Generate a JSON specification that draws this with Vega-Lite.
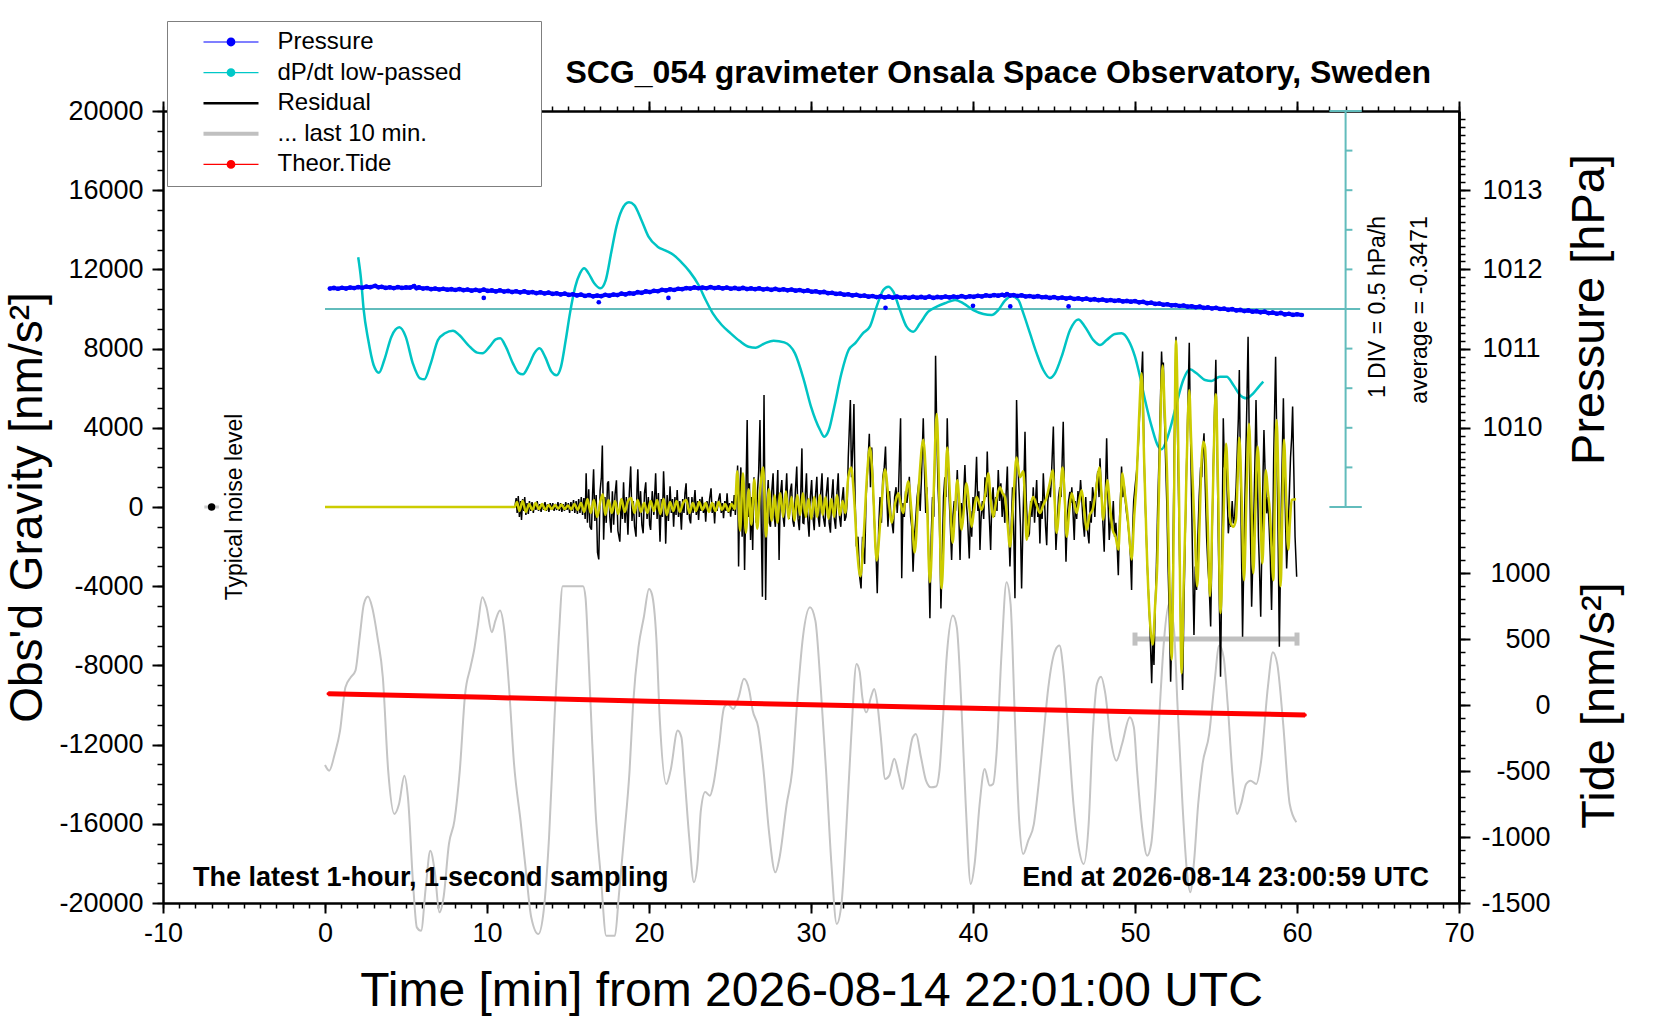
{
  "$schema": "https://vega.github.io/schema/vega-lite/v6.json",
  "width": 1296,
  "height": 792,
  "autosize": {"type": "none"},
  "padding": {"left": 163, "top": 111, "right": 201, "bottom": 117},
  "background": "white",
  "config": {
    "font": "Liberation Sans",
    "view": {"stroke": null},
    "axis": {
      "grid": false, "domainColor": "#000000", "tickColor": "#000000",
      "labelColor": "#000000", "titleColor": "#000000", "labelFontSize": 27,
      "labelFont": "Liberation Sans", "titleFont": "Liberation Sans",
      "titleFontWeight": "normal", "domainWidth": 2.5, "tickWidth": 1.5,
      "labelFlush": false, "labelOverlap": false
    }
  },
  "datasets": {
    "gray": [
      {"t":0.0,"g":-13028},{"t":0.26,"g":-13315},{"t":0.6,"g":-12470},{"t":0.93,"g":-11290},{"t":1.26,"g":-9105},{"t":1.59,"g":-8600},{"t":1.88,"g":-8263},{"t":2.14,"g":-6580},{"t":2.4,"g":-4895},{"t":2.65,"g":-4525},{"t":2.91,"g":-5063},{"t":3.24,"g":-6580},{"t":3.57,"g":-8600},{"t":3.9,"g":-13315},{"t":4.28,"g":-15500},{"t":4.57,"g":-15000},{"t":4.9,"g":-13567},{"t":5.12,"g":-14660},{"t":5.45,"g":-19208},{"t":5.67,"g":-21230},{"t":5.93,"g":-21400},{"t":6.22,"g":-19208},{"t":6.5,"g":-17356},{"t":6.77,"g":-18370},{"t":7.06,"g":-20470},{"t":7.32,"g":-19710},{"t":7.65,"g":-17020},{"t":7.99,"g":-15840},{"t":8.32,"g":-13315},{"t":8.65,"g":-9440},{"t":8.98,"g":-8094},{"t":9.2,"g":-7250},{"t":9.42,"g":-6070},{"t":9.71,"g":-4560},{"t":9.97,"g":-5060},{"t":10.3,"g":-6330},{"t":10.52,"g":-5740},{"t":10.8,"g":-5230},{"t":11.07,"g":-6240},{"t":11.36,"g":-9105},{"t":11.67,"g":-12980},{"t":12.07,"g":-15840},{"t":12.4,"g":-18370},{"t":12.73,"g":-20720},{"t":13.17,"g":-21570},{"t":13.5,"g":-20390},{"t":13.83,"g":-16680},{"t":14.16,"g":-10790},{"t":14.43,"g":-6580},{"t":14.67,"g":-4000},{"t":15.93,"g":-4000},{"t":16.08,"g":-4560},{"t":16.26,"g":-7420},{"t":16.48,"g":-11630},{"t":16.7,"g":-15340},{"t":17.03,"g":-18700},{"t":17.36,"g":-21650},{"t":17.9,"g":-21650},{"t":18.13,"g":-19710},{"t":18.46,"g":-16680},{"t":18.8,"g":-13315},{"t":19.02,"g":-9950},{"t":19.35,"g":-7080},{"t":19.68,"g":-5570},{"t":20.0,"g":-4140},{"t":20.18,"g":-4400},{"t":20.45,"g":-6580},{"t":20.67,"g":-10790},{"t":21.07,"g":-13990},{"t":21.33,"g":-13315},{"t":21.77,"g":-11290},{"t":22.0,"g":-11630},{"t":22.2,"g":-13650},{"t":22.48,"g":-16680},{"t":22.77,"g":-18950},{"t":22.99,"g":-18030},{"t":23.2,"g":-15340},{"t":23.47,"g":-14400},{"t":23.76,"g":-14580},{"t":23.98,"g":-13990},{"t":24.31,"g":-12130},{"t":24.64,"g":-10115},{"t":24.86,"g":-9950},{"t":25.2,"g":-10200},{"t":25.53,"g":-9610},{"t":25.86,"g":-8680},{"t":26.19,"g":-9270},{"t":26.4,"g":-10280},{"t":26.74,"g":-11125},{"t":27.07,"g":-13315},{"t":27.4,"g":-16340},{"t":27.8,"g":-18450},{"t":28.06,"g":-17700},{"t":28.5,"g":-15000},{"t":28.84,"g":-13315},{"t":29.17,"g":-9610},{"t":29.5,"g":-6580},{"t":29.94,"g":-5060},{"t":30.27,"g":-5740},{"t":30.6,"g":-9105},{"t":30.93,"g":-13315},{"t":31.26,"g":-18030},{"t":31.59,"g":-21060},{"t":31.88,"g":-20050},{"t":32.15,"g":-16680},{"t":32.48,"g":-11630},{"t":32.81,"g":-7925},{"t":33.0,"g":-8300},{"t":33.17,"g":-9610},{"t":33.42,"g":-10370},{"t":33.7,"g":-9610},{"t":33.9,"g":-9190},{"t":34.1,"g":-9950},{"t":34.31,"g":-11630},{"t":34.58,"g":-13735},{"t":34.83,"g":-13567},{"t":35.14,"g":-12720},{"t":35.41,"g":-13480},{"t":35.66,"g":-14240},{"t":35.97,"g":-12970},{"t":36.28,"g":-11630},{"t":36.48,"g":-11460},{"t":36.79,"g":-12640},{"t":37.1,"g":-13820},{"t":37.41,"g":-14160},{"t":37.72,"g":-14120},{"t":37.93,"g":-13315},{"t":38.14,"g":-10790},{"t":38.39,"g":-7420},{"t":38.76,"g":-5480},{"t":39.0,"g":-6070},{"t":39.28,"g":-9950},{"t":39.55,"g":-15000},{"t":39.86,"g":-19040},{"t":40.1,"g":-18030},{"t":40.41,"g":-15000},{"t":40.72,"g":-13230},{"t":41.03,"g":-14070},{"t":41.24,"g":-13990},{"t":41.45,"g":-12470},{"t":41.76,"g":-7420},{"t":42.07,"g":-3800},{"t":42.32,"g":-4900},{"t":42.59,"g":-10790},{"t":42.85,"g":-15840},{"t":43.1,"g":-17525},{"t":43.41,"g":-16850},{"t":43.76,"g":-16000},{"t":44.03,"g":-14160},{"t":44.34,"g":-11630},{"t":44.65,"g":-9105},{"t":45.07,"g":-7250},{"t":45.34,"g":-7000},{"t":45.58,"g":-8260},{"t":45.9,"g":-11630},{"t":46.2,"g":-15000},{"t":46.52,"g":-17190},{"t":46.83,"g":-18030},{"t":47.14,"g":-16000},{"t":47.38,"g":-11630},{"t":47.65,"g":-8940},{"t":47.9,"g":-8570},{"t":48.17,"g":-9440},{"t":48.48,"g":-11630},{"t":48.85,"g":-12810},{"t":49.2,"g":-11970},{"t":49.68,"g":-10620},{"t":49.93,"g":-11125},{"t":50.13,"g":-13315},{"t":50.44,"g":-16180},{"t":50.75,"g":-17610},{"t":51.0,"g":-17020},{"t":51.27,"g":-14160},{"t":51.52,"g":-10280},{"t":51.79,"g":-6750},{"t":52.1,"g":-4900},{"t":52.41,"g":-6240},{"t":52.62,"g":-9950},{"t":52.93,"g":-15000},{"t":53.2,"g":-18370},{"t":53.41,"g":-19460},{"t":53.65,"g":-17860},{"t":53.9,"g":-15000},{"t":54.17,"g":-12980},{"t":54.58,"g":-11460},{"t":54.9,"g":-8940},{"t":55.2,"g":-7000},{"t":55.47,"g":-7590},{"t":55.72,"g":-9950},{"t":56.03,"g":-13650},{"t":56.3,"g":-15500},{"t":56.55,"g":-15000},{"t":56.86,"g":-13990},{"t":57.13,"g":-13820},{"t":57.48,"g":-13990},{"t":57.79,"g":-12810},{"t":58.2,"g":-9105},{"t":58.51,"g":-7340},{"t":58.78,"g":-7925},{"t":59.13,"g":-10790},{"t":59.55,"g":-15000},{"t":59.96,"g":-15920}
    ],
    "tide": [
      {"t":0.2,"tide":85},{"t":10,"tide":58},{"t":20,"tide":29},{"t":30,"tide":1},{"t":40,"tide":-25},{"t":50,"tide":-52},{"t":60.5,"tide":-75}
    ],
    "dpdt": [
      {"t":2.05,"v":0.653},{"t":2.23,"v":0.366},{"t":2.38,"v":0.004},{"t":2.67,"v":-0.392},{"t":3.0,"v":-0.707},{"t":3.33,"v":-0.804},{"t":3.66,"v":-0.644},{"t":4.1,"v":-0.349},{"t":4.59,"v":-0.232},{"t":4.98,"v":-0.349},{"t":5.42,"v":-0.686},{"t":5.86,"v":-0.876},{"t":6.13,"v":-0.888},{"t":6.53,"v":-0.686},{"t":6.97,"v":-0.392},{"t":7.41,"v":-0.307},{"t":7.9,"v":-0.274},{"t":8.29,"v":-0.328},{"t":8.84,"v":-0.455},{"t":9.39,"v":-0.551},{"t":9.72,"v":-0.56},{"t":10.16,"v":-0.476},{"t":10.54,"v":-0.383},{"t":10.82,"v":-0.37},{"t":11.16,"v":-0.476},{"t":11.6,"v":-0.686},{"t":11.93,"v":-0.804},{"t":12.21,"v":-0.825},{"t":12.59,"v":-0.707},{"t":12.92,"v":-0.56},{"t":13.25,"v":-0.497},{"t":13.58,"v":-0.602},{"t":13.98,"v":-0.791},{"t":14.29,"v":-0.838},{"t":14.57,"v":-0.728},{"t":14.86,"v":-0.392},{"t":15.12,"v":-0.055},{"t":15.45,"v":0.282},{"t":15.74,"v":0.45},{"t":16.0,"v":0.514},{"t":16.27,"v":0.45},{"t":16.62,"v":0.324},{"t":17.0,"v":0.261},{"t":17.33,"v":0.366},{"t":17.66,"v":0.703},{"t":17.99,"v":1.04},{"t":18.32,"v":1.25},{"t":18.76,"v":1.347},{"t":19.09,"v":1.313},{"t":19.53,"v":1.124},{"t":19.97,"v":0.913},{"t":20.53,"v":0.787},{"t":21.03,"v":0.737},{"t":21.52,"v":0.682},{"t":21.96,"v":0.598},{"t":22.51,"v":0.472},{"t":23.06,"v":0.303},{"t":23.5,"v":0.114},{"t":23.94,"v":-0.055},{"t":24.49,"v":-0.202},{"t":25.04,"v":-0.307},{"t":25.6,"v":-0.404},{"t":26.15,"v":-0.476},{"t":26.59,"v":-0.488},{"t":27.14,"v":-0.434},{"t":27.69,"v":-0.4},{"t":28.35,"v":-0.421},{"t":29.01,"v":-0.56},{"t":29.56,"v":-0.897},{"t":30.0,"v":-1.233},{"t":30.56,"v":-1.528},{"t":30.82,"v":-1.612},{"t":31.1,"v":-1.528},{"t":31.44,"v":-1.233},{"t":31.88,"v":-0.812},{"t":32.32,"v":-0.518},{"t":32.76,"v":-0.425},{"t":33.2,"v":-0.307},{"t":33.64,"v":-0.22},{"t":34.05,"v":0.03},{"t":34.46,"v":0.24},{"t":34.77,"v":0.282},{"t":35.08,"v":0.219},{"t":35.49,"v":-0.013},{"t":35.9,"v":-0.223},{"t":36.31,"v":-0.286},{"t":36.73,"v":-0.181},{"t":37.24,"v":-0.034},{"t":37.76,"v":0.03},{"t":38.37,"v":0.08},{"t":38.89,"v":0.114},{"t":39.4,"v":0.072},{"t":40.02,"v":-0.013},{"t":40.64,"v":-0.063},{"t":41.15,"v":-0.076},{"t":41.56,"v":-0.013},{"t":41.97,"v":0.105},{"t":42.39,"v":0.164},{"t":42.8,"v":0.114},{"t":43.11,"v":-0.055},{"t":43.52,"v":-0.307},{"t":43.93,"v":-0.56},{"t":44.34,"v":-0.77},{"t":44.75,"v":-0.871},{"t":45.06,"v":-0.812},{"t":45.47,"v":-0.602},{"t":45.99,"v":-0.265},{"t":46.5,"v":-0.131},{"t":46.91,"v":-0.223},{"t":47.43,"v":-0.392},{"t":47.84,"v":-0.455},{"t":48.25,"v":-0.392},{"t":48.76,"v":-0.316},{"t":49.17,"v":-0.307},{"t":49.59,"v":-0.392},{"t":50.0,"v":-0.602},{"t":50.31,"v":-0.854},{"t":50.62,"v":-1.149},{"t":51.03,"v":-1.486},{"t":51.44,"v":-1.738},{"t":51.64,"v":-1.772},{"t":51.95,"v":-1.654},{"t":52.26,"v":-1.444},{"t":52.57,"v":-1.191},{"t":52.98,"v":-0.897},{"t":53.39,"v":-0.762},{"t":53.8,"v":-0.812},{"t":54.32,"v":-0.897},{"t":54.73,"v":-0.909},{"t":55.24,"v":-0.854},{"t":55.66,"v":-0.854},{"t":56.07,"v":-0.96},{"t":56.48,"v":-1.086},{"t":56.89,"v":-1.128},{"t":57.3,"v":-1.065},{"t":57.61,"v":-0.989},{"t":57.92,"v":-0.918}
    ],
    "pres": [
      {"t":0.3,"p":1011.758,"o":0},{"t":0.55,"p":1011.766,"o":0},{"t":0.8,"p":1011.756,"o":0},{"t":1.05,"p":1011.768,"o":0},{"t":1.3,"p":1011.758,"o":0},{"t":1.55,"p":1011.77,"o":0},{"t":1.8,"p":1011.764,"o":0},{"t":2.05,"p":1011.776,"o":0},{"t":2.3,"p":1011.768,"o":0},{"t":2.55,"p":1011.782,"o":0},{"t":2.8,"p":1011.776,"o":0},{"t":3.1,"p":1011.792,"o":0},{"t":3.3,"p":1011.774,"o":0},{"t":3.5,"p":1011.78,"o":0},{"t":3.75,"p":1011.766,"o":0},{"t":4.0,"p":1011.774,"o":0},{"t":4.25,"p":1011.764,"o":0},{"t":4.5,"p":1011.776,"o":0},{"t":4.75,"p":1011.766,"o":0},{"t":5.0,"p":1011.772,"o":0},{"t":5.25,"p":1011.77,"o":0},{"t":5.5,"p":1011.79,"o":0},{"t":5.65,"p":1011.762,"o":0},{"t":5.8,"p":1011.772,"o":0},{"t":6.05,"p":1011.758,"o":0},{"t":6.3,"p":1011.764,"o":0},{"t":6.55,"p":1011.75,"o":0},{"t":6.8,"p":1011.758,"o":0},{"t":7.05,"p":1011.746,"o":0},{"t":7.3,"p":1011.756,"o":0},{"t":7.55,"p":1011.744,"o":0},{"t":7.8,"p":1011.75,"o":0},{"t":8.05,"p":1011.74,"o":0},{"t":8.3,"p":1011.752,"o":0},{"t":8.55,"p":1011.738,"o":0},{"t":8.8,"p":1011.746,"o":0},{"t":9.05,"p":1011.732,"o":0},{"t":9.3,"p":1011.742,"o":0},{"t":9.55,"p":1011.73,"o":0},{"t":9.8,"p":1011.744,"o":0},{"t":10.05,"p":1011.728,"o":0},{"t":10.3,"p":1011.734,"o":0},{"t":10.55,"p":1011.722,"o":0},{"t":10.8,"p":1011.736,"o":0},{"t":11.05,"p":1011.72,"o":0},{"t":11.3,"p":1011.728,"o":0},{"t":11.55,"p":1011.714,"o":0},{"t":11.8,"p":1011.724,"o":0},{"t":12.05,"p":1011.71,"o":0},{"t":12.3,"p":1011.722,"o":0},{"t":12.55,"p":1011.706,"o":0},{"t":12.8,"p":1011.714,"o":0},{"t":13.05,"p":1011.7,"o":0},{"t":13.3,"p":1011.71,"o":0},{"t":13.55,"p":1011.696,"o":0},{"t":13.8,"p":1011.706,"o":0},{"t":14.05,"p":1011.69,"o":0},{"t":14.3,"p":1011.698,"o":0},{"t":14.55,"p":1011.684,"o":0},{"t":14.8,"p":1011.694,"o":0},{"t":15.05,"p":1011.678,"o":0},{"t":15.3,"p":1011.686,"o":0},{"t":15.55,"p":1011.672,"o":0},{"t":15.8,"p":1011.682,"o":0},{"t":16.05,"p":1011.664,"o":0},{"t":16.3,"p":1011.676,"o":0},{"t":16.55,"p":1011.66,"o":0},{"t":16.8,"p":1011.67,"o":0},{"t":17.05,"p":1011.662,"o":0},{"t":17.3,"p":1011.68,"o":0},{"t":17.55,"p":1011.668,"o":0},{"t":17.8,"p":1011.682,"o":0},{"t":18.05,"p":1011.676,"o":0},{"t":18.3,"p":1011.694,"o":0},{"t":18.55,"p":1011.684,"o":0},{"t":18.8,"p":1011.7,"o":0},{"t":19.05,"p":1011.694,"o":0},{"t":19.3,"p":1011.712,"o":0},{"t":19.55,"p":1011.704,"o":0},{"t":19.8,"p":1011.722,"o":0},{"t":20.05,"p":1011.714,"o":0},{"t":20.3,"p":1011.73,"o":0},{"t":20.55,"p":1011.724,"o":0},{"t":20.8,"p":1011.742,"o":0},{"t":21.05,"p":1011.734,"o":0},{"t":21.3,"p":1011.748,"o":0},{"t":21.55,"p":1011.74,"o":0},{"t":21.8,"p":1011.756,"o":0},{"t":22.05,"p":1011.75,"o":0},{"t":22.3,"p":1011.764,"o":0},{"t":22.55,"p":1011.758,"o":0},{"t":22.8,"p":1011.772,"o":0},{"t":23.05,"p":1011.762,"o":0},{"t":23.3,"p":1011.77,"o":0},{"t":23.55,"p":1011.762,"o":0},{"t":23.8,"p":1011.776,"o":0},{"t":24.05,"p":1011.764,"o":0},{"t":24.3,"p":1011.772,"o":0},{"t":24.55,"p":1011.76,"o":0},{"t":24.8,"p":1011.77,"o":0},{"t":25.05,"p":1011.756,"o":0},{"t":25.3,"p":1011.766,"o":0},{"t":25.55,"p":1011.754,"o":0},{"t":25.8,"p":1011.766,"o":0},{"t":26.05,"p":1011.752,"o":0},{"t":26.3,"p":1011.76,"o":0},{"t":26.55,"p":1011.75,"o":0},{"t":26.8,"p":1011.76,"o":0},{"t":27.05,"p":1011.746,"o":0},{"t":27.3,"p":1011.754,"o":0},{"t":27.55,"p":1011.742,"o":0},{"t":27.8,"p":1011.754,"o":0},{"t":28.05,"p":1011.74,"o":0},{"t":28.3,"p":1011.748,"o":0},{"t":28.55,"p":1011.736,"o":0},{"t":28.8,"p":1011.746,"o":0},{"t":29.05,"p":1011.732,"o":0},{"t":29.3,"p":1011.74,"o":0},{"t":29.55,"p":1011.726,"o":0},{"t":29.8,"p":1011.734,"o":0},{"t":30.05,"p":1011.718,"o":0},{"t":30.3,"p":1011.724,"o":0},{"t":30.55,"p":1011.71,"o":0},{"t":30.8,"p":1011.716,"o":0},{"t":31.05,"p":1011.7,"o":0},{"t":31.3,"p":1011.704,"o":0},{"t":31.55,"p":1011.69,"o":0},{"t":31.8,"p":1011.696,"o":0},{"t":32.05,"p":1011.68,"o":0},{"t":32.3,"p":1011.686,"o":0},{"t":32.55,"p":1011.672,"o":0},{"t":32.8,"p":1011.68,"o":0},{"t":33.05,"p":1011.664,"o":0},{"t":33.3,"p":1011.67,"o":0},{"t":33.55,"p":1011.656,"o":0},{"t":33.8,"p":1011.664,"o":0},{"t":34.05,"p":1011.65,"o":0},{"t":34.3,"p":1011.66,"o":0},{"t":34.55,"p":1011.646,"o":0},{"t":34.8,"p":1011.656,"o":0},{"t":35.05,"p":1011.644,"o":0},{"t":35.3,"p":1011.656,"o":0},{"t":35.55,"p":1011.642,"o":0},{"t":35.8,"p":1011.65,"o":0},{"t":36.05,"p":1011.64,"o":0},{"t":36.3,"p":1011.654,"o":0},{"t":36.55,"p":1011.642,"o":0},{"t":36.8,"p":1011.652,"o":0},{"t":37.05,"p":1011.642,"o":0},{"t":37.3,"p":1011.656,"o":0},{"t":37.55,"p":1011.64,"o":0},{"t":37.8,"p":1011.652,"o":0},{"t":38.05,"p":1011.646,"o":0},{"t":38.3,"p":1011.658,"o":0},{"t":38.55,"p":1011.646,"o":0},{"t":38.8,"p":1011.658,"o":0},{"t":39.05,"p":1011.65,"o":0},{"t":39.3,"p":1011.662,"o":0},{"t":39.55,"p":1011.648,"o":0},{"t":39.8,"p":1011.66,"o":0},{"t":40.05,"p":1011.654,"o":0},{"t":40.3,"p":1011.666,"o":0},{"t":40.55,"p":1011.658,"o":0},{"t":40.8,"p":1011.672,"o":0},{"t":41.05,"p":1011.664,"o":0},{"t":41.3,"p":1011.676,"o":0},{"t":41.55,"p":1011.668,"o":0},{"t":41.8,"p":1011.68,"o":0},{"t":41.95,"p":1011.672,"o":0},{"t":42.1,"p":1011.688,"o":0},{"t":42.3,"p":1011.67,"o":0},{"t":42.5,"p":1011.676,"o":0},{"t":42.75,"p":1011.664,"o":0},{"t":43.0,"p":1011.672,"o":0},{"t":43.25,"p":1011.658,"o":0},{"t":43.5,"p":1011.664,"o":0},{"t":43.75,"p":1011.652,"o":0},{"t":44.0,"p":1011.662,"o":0},{"t":44.25,"p":1011.648,"o":0},{"t":44.5,"p":1011.652,"o":0},{"t":44.75,"p":1011.64,"o":0},{"t":45.0,"p":1011.65,"o":0},{"t":45.25,"p":1011.636,"o":0},{"t":45.5,"p":1011.644,"o":0},{"t":45.75,"p":1011.632,"o":0},{"t":46.0,"p":1011.642,"o":0},{"t":46.25,"p":1011.626,"o":0},{"t":46.5,"p":1011.634,"o":0},{"t":46.75,"p":1011.622,"o":0},{"t":47.0,"p":1011.632,"o":0},{"t":47.25,"p":1011.616,"o":0},{"t":47.5,"p":1011.624,"o":0},{"t":47.75,"p":1011.612,"o":0},{"t":48.0,"p":1011.62,"o":0},{"t":48.25,"p":1011.606,"o":0},{"t":48.5,"p":1011.614,"o":0},{"t":48.75,"p":1011.602,"o":0},{"t":49.0,"p":1011.61,"o":0},{"t":49.25,"p":1011.596,"o":0},{"t":49.5,"p":1011.602,"o":0},{"t":49.75,"p":1011.592,"o":0},{"t":50.0,"p":1011.6,"o":0},{"t":50.25,"p":1011.584,"o":0},{"t":50.5,"p":1011.59,"o":0},{"t":50.75,"p":1011.574,"o":0},{"t":51.0,"p":1011.58,"o":0},{"t":51.25,"p":1011.564,"o":0},{"t":51.5,"p":1011.568,"o":0},{"t":51.75,"p":1011.554,"o":0},{"t":52.0,"p":1011.56,"o":0},{"t":52.25,"p":1011.546,"o":0},{"t":52.5,"p":1011.55,"o":0},{"t":52.75,"p":1011.538,"o":0},{"t":53.0,"p":1011.544,"o":0},{"t":53.25,"p":1011.53,"o":0},{"t":53.5,"p":1011.534,"o":0},{"t":53.75,"p":1011.522,"o":0},{"t":54.0,"p":1011.53,"o":0},{"t":54.25,"p":1011.514,"o":0},{"t":54.5,"p":1011.52,"o":0},{"t":54.75,"p":1011.506,"o":0},{"t":55.0,"p":1011.514,"o":0},{"t":55.25,"p":1011.5,"o":0},{"t":55.5,"p":1011.504,"o":0},{"t":55.75,"p":1011.49,"o":0},{"t":56.0,"p":1011.498,"o":0},{"t":56.25,"p":1011.482,"o":0},{"t":56.5,"p":1011.488,"o":0},{"t":56.75,"p":1011.474,"o":0},{"t":57.0,"p":1011.482,"o":0},{"t":57.25,"p":1011.466,"o":0},{"t":57.5,"p":1011.472,"o":0},{"t":57.75,"p":1011.458,"o":0},{"t":58.0,"p":1011.466,"o":0},{"t":58.25,"p":1011.448,"o":0},{"t":58.5,"p":1011.454,"o":0},{"t":58.75,"p":1011.44,"o":0},{"t":59.0,"p":1011.45,"o":0},{"t":59.25,"p":1011.432,"o":0},{"t":59.5,"p":1011.44,"o":0},{"t":59.75,"p":1011.426,"o":0},{"t":60.0,"p":1011.434,"o":0},{"t":60.3,"p":1011.424,"o":0},
      {"t":9.8,"p":1011.64,"o":1},{"t":16.9,"p":1011.585,"o":1},{"t":21.2,"p":1011.64,"o":1},{"t":34.6,"p":1011.515,"o":1},{"t":40.0,"p":1011.54,"o":1},{"t":42.3,"p":1011.532,"o":1},{"t":45.9,"p":1011.532,"o":1}
    ],
    "lp": [
      {"t":0,"g":0},{"t":11.7,"g":0},{"t":11.85,"g":250},{"t":12.0,"g":-200},{"t":12.2,"g":300},{"t":12.4,"g":-250},{"t":12.6,"g":150},{"t":12.8,"g":-150},{"t":13.0,"g":200},{"t":13.2,"g":-100},{"t":13.4,"g":150},{"t":13.6,"g":-150},{"t":13.8,"g":100},{"t":14.0,"g":-100},{"t":14.2,"g":100},{"t":14.4,"g":-80},{"t":14.6,"g":120},{"t":14.8,"g":-100},{"t":15.0,"g":80},{"t":15.2,"g":-120},{"t":15.4,"g":150},{"t":15.6,"g":-150},{"t":15.8,"g":200},{"t":16.0,"g":-250},{"t":16.2,"g":400},{"t":16.4,"g":-300},{"t":16.6,"g":350},{"t":16.8,"g":-500},{"t":17.0,"g":300},{"t":17.15,"g":650},{"t":17.3,"g":-400},{"t":17.5,"g":350},{"t":17.7,"g":-300},{"t":17.9,"g":300},{"t":18.1,"g":-350},{"t":18.3,"g":400},{"t":18.5,"g":-250},{"t":18.7,"g":300},{"t":18.9,"g":450},{"t":19.1,"g":-300},{"t":19.3,"g":350},{"t":19.5,"g":-250},{"t":19.7,"g":200},{"t":19.9,"g":-300},{"t":20.1,"g":300},{"t":20.3,"g":-200},{"t":20.5,"g":350},{"t":20.7,"g":-350},{"t":20.9,"g":400},{"t":21.1,"g":-400},{"t":21.3,"g":250},{"t":21.5,"g":-200},{"t":21.7,"g":300},{"t":21.9,"g":-250},{"t":22.1,"g":200},{"t":22.3,"g":350},{"t":22.5,"g":-300},{"t":22.7,"g":200},{"t":22.9,"g":-200},{"t":23.1,"g":250},{"t":23.3,"g":-150},{"t":23.5,"g":200},{"t":23.7,"g":-250},{"t":23.9,"g":200},{"t":24.1,"g":-200},{"t":24.3,"g":250},{"t":24.5,"g":-150},{"t":24.7,"g":150},{"t":24.9,"g":-200},{"t":25.1,"g":150},{"t":25.3,"g":-100},
      {"t":25.45,"g":1800},{"t":25.62,"g":-1200},{"t":25.8,"g":1700},{"t":25.98,"g":-1300},{"t":26.15,"g":900},{"t":26.32,"g":-900},{"t":26.5,"g":1400},{"t":26.68,"g":-1100},{"t":26.85,"g":800},{"t":27.05,"g":2000},{"t":27.22,"g":-1500},{"t":27.4,"g":900},{"t":27.58,"g":-700},{"t":27.75,"g":600},{"t":27.92,"g":-800},{"t":28.1,"g":700},{"t":28.28,"g":-500},{"t":28.45,"g":800},{"t":28.62,"g":-600},{"t":28.8,"g":500},{"t":28.98,"g":-700},{"t":29.15,"g":600},{"t":29.33,"g":-400},{"t":29.5,"g":700},{"t":29.68,"g":-500},{"t":29.85,"g":400},{"t":30.02,"g":-600},{"t":30.2,"g":500},{"t":30.38,"g":-500},{"t":30.55,"g":600},{"t":30.72,"g":-400},{"t":30.9,"g":500},{"t":31.08,"g":-600},{"t":31.25,"g":400},{"t":31.42,"g":-500},{"t":31.6,"g":600},{"t":31.78,"g":-400},{"t":31.95,"g":300},{"t":32.12,"g":-300},
      {"t":32.3,"g":1500},{"t":32.48,"g":2000},{"t":32.65,"g":600},{"t":32.85,"g":-2200},{"t":33.05,"g":-3500},{"t":33.25,"g":-1500},{"t":33.45,"g":1500},{"t":33.64,"g":3000},{"t":33.8,"g":1500},{"t":34.05,"g":-2700},{"t":34.3,"g":-500},{"t":34.57,"g":1900},{"t":34.8,"g":300},{"t":34.98,"g":-800},{"t":35.2,"g":200},{"t":35.39,"g":700},{"t":35.55,"g":100},{"t":35.7,"g":-300},{"t":35.85,"g":600},{"t":36.0,"g":1300},{"t":36.2,"g":-200},{"t":36.4,"g":-2300},{"t":36.65,"g":1000},{"t":36.93,"g":3400},{"t":37.15,"g":500},{"t":37.34,"g":-3800},{"t":37.55,"g":200},{"t":37.76,"g":4700},{"t":37.9,"g":1200},{"t":38.06,"g":-4100},{"t":38.25,"g":-300},{"t":38.41,"g":3000},{"t":38.58,"g":500},{"t":38.74,"g":-1800},{"t":38.9,"g":0},{"t":39.03,"g":1350},{"t":39.17,"g":100},{"t":39.3,"g":-1150},{"t":39.45,"g":0},{"t":39.6,"g":1200},{"t":39.76,"g":100},{"t":39.92,"g":-1000},{"t":40.07,"g":-100},{"t":40.22,"g":500},{"t":40.38,"g":200},{"t":40.53,"g":-150},{"t":40.75,"g":600},{"t":40.94,"g":1700},{"t":41.1,"g":300},{"t":41.25,"g":-500},{"t":41.45,"g":400},{"t":41.66,"g":1000},{"t":41.82,"g":700},{"t":41.97,"g":500},{"t":42.12,"g":-700},{"t":42.28,"g":-2000},{"t":42.48,"g":200},{"t":42.69,"g":2500},{"t":42.9,"g":1500},{"t":43.1,"g":1800},{"t":43.2,"g":500},{"t":43.31,"g":-1650},{"t":43.5,"g":-300},{"t":43.72,"g":500},{"t":43.92,"g":100},{"t":44.13,"g":-300},{"t":44.34,"g":100},{"t":44.55,"g":500},{"t":44.74,"g":1200},{"t":44.92,"g":1850},{"t":45.04,"g":300},{"t":45.16,"g":-1300},{"t":45.35,"g":300},{"t":45.53,"g":2000},{"t":45.66,"g":500},{"t":45.78,"g":-1500},{"t":45.94,"g":-200},{"t":46.09,"g":700},{"t":46.25,"g":200},{"t":46.4,"g":-300},{"t":46.55,"g":300},{"t":46.71,"g":850},{"t":46.86,"g":-100},{"t":47.02,"g":-1150},{"t":47.2,"g":-400},{"t":47.38,"g":-150},{"t":47.6,"g":900},{"t":47.8,"g":2000},{"t":47.92,"g":800},{"t":48.04,"g":-650},{"t":48.16,"g":300},{"t":48.29,"g":1350},{"t":48.45,"g":100},{"t":48.62,"g":-1150},{"t":48.8,"g":-1500},{"t":48.97,"g":-2150},{"t":49.1,"g":-200},{"t":49.22,"g":1700},{"t":49.37,"g":700},{"t":49.52,"g":-300},{"t":49.65,"g":-1500},{"t":49.79,"g":-2650},{"t":49.95,"g":-500},{"t":50.1,"g":1350},{"t":50.25,"g":4500},{"t":50.41,"g":6750},{"t":50.56,"g":2500},{"t":50.72,"g":-2000},{"t":50.9,"g":-5500},{"t":51.09,"g":-6950},{"t":51.24,"g":-5000},{"t":51.38,"g":-2800},{"t":51.55,"g":3500},{"t":51.7,"g":7150},{"t":51.85,"g":4500},{"t":51.99,"g":1350},{"t":52.12,"g":-3500},{"t":52.26,"g":-7700},{"t":52.4,"g":-500},{"t":52.53,"g":8400},{"t":52.7,"g":1500},{"t":52.88,"g":-8400},{"t":53.0,"g":-4000},{"t":53.1,"g":-1000},{"t":53.2,"g":2500},{"t":53.35,"g":5900},{"t":53.46,"g":3500},{"t":53.56,"g":1360},{"t":53.7,"g":-1500},{"t":53.84,"g":-4000},{"t":53.98,"g":-1000},{"t":54.11,"g":2350},{"t":54.22,"g":3300},{"t":54.32,"g":3050},{"t":54.48,"g":-500},{"t":54.63,"g":-4500},{"t":54.8,"g":500},{"t":54.99,"g":5700},{"t":55.14,"g":500},{"t":55.28,"g":-5350},{"t":55.45,"g":-1000},{"t":55.62,"g":3200},{"t":55.76,"g":800},{"t":55.9,"g":-800},{"t":56.07,"g":-1000},{"t":56.23,"g":-650},{"t":56.34,"g":1500},{"t":56.44,"g":3500},{"t":56.58,"g":500},{"t":56.73,"g":-3700},{"t":56.88,"g":500},{"t":57.04,"g":4200},{"t":57.17,"g":1000},{"t":57.3,"g":-3350},{"t":57.44,"g":0},{"t":57.57,"g":3050},{"t":57.72,"g":500},{"t":57.86,"g":-2850},{"t":57.97,"g":-500},{"t":58.08,"g":1850},{"t":58.2,"g":800},{"t":58.33,"g":-300},{"t":58.43,"g":-2000},{"t":58.54,"g":-3700},{"t":58.64,"g":1000},{"t":58.74,"g":4400},{"t":58.86,"g":1000},{"t":58.99,"g":-4000},{"t":59.1,"g":0},{"t":59.2,"g":3400},{"t":59.33,"g":500},{"t":59.46,"g":-2150},{"t":59.56,"g":-800},{"t":59.67,"g":350},{"t":59.8,"g":380},{"t":59.94,"g":390}
    ],
    "res": [
      {"t":11.72,"g":0},{"t":11.8,"g":450},{"t":11.86,"g":-300},{"t":11.93,"g":550},{"t":12.0,"g":-500},{"t":12.07,"g":300},{"t":12.13,"g":-650},{"t":12.2,"g":400},{"t":12.27,"g":-200},{"t":12.33,"g":500},{"t":12.4,"g":-400},{"t":12.47,"g":200},{"t":12.55,"g":-350},{"t":12.62,"g":300},{"t":12.7,"g":-200},{"t":12.78,"g":250},{"t":12.86,"g":-300},{"t":12.94,"g":200},{"t":13.02,"g":-150},{"t":13.1,"g":300},{"t":13.18,"g":-200},{"t":13.26,"g":150},{"t":13.34,"g":-250},{"t":13.42,"g":200},{"t":13.5,"g":-150},{"t":13.58,"g":250},{"t":13.66,"g":-200},{"t":13.74,"g":150},{"t":13.82,"g":-250},{"t":13.9,"g":200},{"t":13.98,"g":-150},{"t":14.06,"g":200},{"t":14.14,"g":-200},{"t":14.22,"g":150},{"t":14.3,"g":-150},{"t":14.38,"g":250},{"t":14.46,"g":-200},{"t":14.54,"g":200},{"t":14.62,"g":-250},{"t":14.7,"g":150},{"t":14.78,"g":-200},{"t":14.86,"g":250},{"t":14.94,"g":-150},{"t":15.02,"g":200},{"t":15.1,"g":-300},{"t":15.18,"g":250},{"t":15.26,"g":-200},{"t":15.34,"g":350},{"t":15.42,"g":-300},{"t":15.5,"g":300},{"t":15.58,"g":-350},{"t":15.66,"g":400},{"t":15.74,"g":-300},{"t":15.82,"g":500},{"t":15.9,"g":-400},{"t":15.98,"g":450},{"t":16.06,"g":-600},{"t":16.12,"g":1700},{"t":16.2,"g":-800},{"t":16.28,"g":900},{"t":16.36,"g":-1000},{"t":16.45,"g":-1150},{"t":16.52,"g":700},{"t":16.58,"g":1900},{"t":16.66,"g":-700},{"t":16.74,"g":600},{"t":16.82,"g":-2300},{"t":16.9,"g":-2650},{"t":16.98,"g":800},{"t":17.06,"g":1500},{"t":17.12,"g":3100},{"t":17.2,"g":-1650},{"t":17.28,"g":500},{"t":17.36,"g":-800},{"t":17.44,"g":1200},{"t":17.5,"g":1300},{"t":17.58,"g":-500},{"t":17.66,"g":-1300},{"t":17.74,"g":800},{"t":17.82,"g":-900},{"t":17.9,"g":600},{"t":17.99,"g":1350},{"t":18.08,"g":-1200},{"t":18.2,"g":-1750},{"t":18.28,"g":400},{"t":18.36,"g":-600},{"t":18.43,"g":1250},{"t":18.52,"g":-800},{"t":18.6,"g":500},{"t":18.7,"g":-1400},{"t":18.78,"g":600},{"t":18.87,"g":2050},{"t":18.95,"g":-700},{"t":19.03,"g":300},{"t":19.11,"g":-1000},{"t":19.2,"g":-1500},{"t":19.26,"g":900},{"t":19.31,"g":1900},{"t":19.4,"g":-500},{"t":19.48,"g":800},{"t":19.56,"g":-900},{"t":19.64,"g":-1330},{"t":19.72,"g":700},{"t":19.8,"g":1250},{"t":19.88,"g":-600},{"t":19.96,"g":500},{"t":20.04,"g":-900},{"t":20.1,"g":-1160},{"t":20.2,"g":800},{"t":20.3,"g":-400},{"t":20.41,"g":1700},{"t":20.5,"g":-600},{"t":20.58,"g":700},{"t":20.68,"g":-1750},{"t":20.76,"g":400},{"t":20.83,"g":-500},{"t":20.9,"g":1800},{"t":20.97,"g":300},{"t":21.03,"g":-1850},{"t":21.12,"g":600},{"t":21.2,"g":-700},{"t":21.3,"g":1050},{"t":21.38,"g":-300},{"t":21.45,"g":400},{"t":21.52,"g":-1000},{"t":21.6,"g":500},{"t":21.67,"g":-400},{"t":21.74,"g":860},{"t":21.82,"g":-500},{"t":21.9,"g":300},{"t":22.0,"g":-1150},{"t":22.08,"g":400},{"t":22.16,"g":-300},{"t":22.22,"g":700},{"t":22.29,"g":1200},{"t":22.36,"g":-400},{"t":22.44,"g":500},{"t":22.5,"g":-600},{"t":22.57,"g":-830},{"t":22.65,"g":500},{"t":22.72,"g":-300},{"t":22.84,"g":860},{"t":22.92,"g":-400},{"t":23.0,"g":300},{"t":23.06,"g":-660},{"t":23.14,"g":400},{"t":23.2,"g":-200},{"t":23.28,"g":520},{"t":23.36,"g":-300},{"t":23.43,"g":200},{"t":23.5,"g":-740},{"t":23.58,"g":300},{"t":23.66,"g":-200},{"t":23.74,"g":400},{"t":23.83,"g":940},{"t":23.9,"g":-300},{"t":23.98,"g":200},{"t":24.05,"g":-830},{"t":24.12,"g":300},{"t":24.2,"g":-200},{"t":24.3,"g":400},{"t":24.38,"g":690},{"t":24.46,"g":-300},{"t":24.53,"g":200},{"t":24.6,"g":-570},{"t":24.68,"g":300},{"t":24.75,"g":-200},{"t":24.82,"g":690},{"t":24.9,"g":-300},{"t":24.97,"g":200},{"t":25.04,"g":-490},{"t":25.12,"g":300},{"t":25.2,"g":-200},{"t":25.26,"g":600},{"t":25.33,"g":-400},{"t":25.4,"g":500},{"t":25.47,"g":2100},{"t":25.53,"g":-3010},{"t":25.6,"g":800},{"t":25.67,"g":2000},{"t":25.75,"g":-1500},{"t":25.82,"g":1400},{"t":25.9,"g":-3180},{"t":25.98,"g":500},{"t":26.06,"g":4390},{"t":26.13,"g":-500},{"t":26.2,"g":1200},{"t":26.27,"g":-1670},{"t":26.34,"g":500},{"t":26.4,"g":-2170},{"t":26.48,"g":1500},{"t":26.55,"g":500},{"t":26.62,"g":-800},{"t":26.7,"g":800},{"t":26.77,"g":1800},{"t":26.85,"g":4390},{"t":26.93,"g":-1000},{"t":27.0,"g":-4530},{"t":27.1,"g":5660},{"t":27.2,"g":-4700},{"t":27.28,"g":200},{"t":27.36,"g":1360},{"t":27.43,"g":-800},{"t":27.5,"g":-1000},{"t":27.58,"g":800},{"t":27.66,"g":1700},{"t":27.73,"g":-500},{"t":27.8,"g":-1000},{"t":27.88,"g":500},{"t":27.95,"g":1870},{"t":28.03,"g":-2680},{"t":28.1,"g":500},{"t":28.2,"g":1360},{"t":28.28,"g":-500},{"t":28.35,"g":-1000},{"t":28.43,"g":600},{"t":28.5,"g":1700},{"t":28.58,"g":-300},{"t":28.65,"g":-600},{"t":28.72,"g":800},{"t":28.8,"g":1180},{"t":28.88,"g":-700},{"t":28.95,"g":-1000},{"t":29.03,"g":700},{"t":29.12,"g":2040},{"t":29.2,"g":-600},{"t":29.28,"g":-1170},{"t":29.36,"g":500},{"t":29.44,"g":2960},{"t":29.5,"g":-800},{"t":29.56,"g":-830},{"t":29.64,"g":500},{"t":29.72,"g":1700},{"t":29.8,"g":-600},{"t":29.88,"g":-1500},{"t":29.96,"g":500},{"t":30.04,"g":1360},{"t":30.12,"g":-500},{"t":30.2,"g":-1170},{"t":30.28,"g":600},{"t":30.36,"g":1530},{"t":30.44,"g":-500},{"t":30.52,"g":-1000},{"t":30.6,"g":700},{"t":30.68,"g":1700},{"t":30.76,"g":-500},{"t":30.86,"g":-1000},{"t":30.94,"g":600},{"t":31.04,"g":1500},{"t":31.12,"g":-800},{"t":31.2,"g":-1300},{"t":31.28,"g":500},{"t":31.36,"g":1400},{"t":31.44,"g":-600},{"t":31.52,"g":-1100},{"t":31.6,"g":700},{"t":31.68,"g":1700},{"t":31.76,"g":-500},{"t":31.84,"g":-1000},{"t":31.92,"g":400},{"t":32.0,"g":1000},{"t":32.08,"g":-700},{"t":32.16,"g":-500},{"t":32.24,"g":300},{"t":32.3,"g":2500},{"t":32.43,"g":5400},{"t":32.5,"g":1500},{"t":32.58,"g":3000},{"t":32.65,"g":5200},{"t":32.72,"g":500},{"t":32.8,"g":-2000},{"t":32.9,"g":-1500},{"t":33.0,"g":-3500},{"t":33.09,"g":-4110},{"t":33.18,"g":-1500},{"t":33.31,"g":-2880},{"t":33.4,"g":500},{"t":33.5,"g":2000},{"t":33.6,"g":3700},{"t":33.67,"g":1000},{"t":33.75,"g":3000},{"t":33.85,"g":500},{"t":33.95,"g":-1500},{"t":34.02,"g":-2500},{"t":34.09,"g":-4360},{"t":34.18,"g":-1000},{"t":34.26,"g":500},{"t":34.35,"g":-800},{"t":34.43,"g":1500},{"t":34.52,"g":2000},{"t":34.6,"g":3050},{"t":34.68,"g":500},{"t":34.75,"g":-1000},{"t":34.85,"g":800},{"t":34.93,"g":-500},{"t":35.0,"g":-800},{"t":35.08,"g":-1330},{"t":35.16,"g":500},{"t":35.25,"g":1000},{"t":35.32,"g":-300},{"t":35.4,"g":800},{"t":35.53,"g":4480},{"t":35.6,"g":-3600},{"t":35.68,"g":200},{"t":35.76,"g":-500},{"t":35.84,"g":800},{"t":35.92,"g":200},{"t":36.0,"g":800},{"t":36.07,"g":1530},{"t":36.15,"g":-500},{"t":36.22,"g":-1000},{"t":36.3,"g":-3270},{"t":36.38,"g":-1500},{"t":36.45,"g":-800},{"t":36.55,"g":500},{"t":36.65,"g":1200},{"t":36.74,"g":-200},{"t":36.82,"g":1500},{"t":36.93,"g":4480},{"t":37.0,"g":2000},{"t":37.08,"g":-300},{"t":37.16,"g":1000},{"t":37.25,"g":-2000},{"t":37.34,"g":-5620},{"t":37.42,"g":-1500},{"t":37.5,"g":500},{"t":37.58,"g":-500},{"t":37.65,"g":3000},{"t":37.69,"g":7640},{"t":37.76,"g":4000},{"t":37.84,"g":1000},{"t":37.92,"g":-500},{"t":37.97,"g":-2500},{"t":38.02,"g":-5120},{"t":38.1,"g":-2500},{"t":38.18,"g":500},{"t":38.26,"g":1500},{"t":38.34,"g":500},{"t":38.41,"g":4480},{"t":38.5,"g":1000},{"t":38.58,"g":-500},{"t":38.68,"g":-2680},{"t":38.76,"g":-500},{"t":38.84,"g":300},{"t":38.92,"g":-200},{"t":39.03,"g":1870},{"t":39.1,"g":300},{"t":39.2,"g":-2680},{"t":39.28,"g":200},{"t":39.36,"g":-800},{"t":39.43,"g":800},{"t":39.5,"g":2120},{"t":39.58,"g":300},{"t":39.66,"g":-500},{"t":39.77,"g":-2600},{"t":39.85,"g":-200},{"t":39.92,"g":-1500},{"t":40.0,"g":500},{"t":40.08,"g":-300},{"t":40.15,"g":1000},{"t":40.22,"g":2540},{"t":40.3,"g":-200},{"t":40.36,"g":800},{"t":40.43,"g":-2170},{"t":40.5,"g":-500},{"t":40.58,"g":300},{"t":40.66,"g":-600},{"t":40.74,"g":1500},{"t":40.82,"g":500},{"t":40.88,"g":2800},{"t":40.96,"g":300},{"t":41.02,"g":-800},{"t":41.09,"g":-2170},{"t":41.16,"g":300},{"t":41.24,"g":1000},{"t":41.32,"g":-500},{"t":41.4,"g":500},{"t":41.48,"g":-200},{"t":41.56,"g":1870},{"t":41.64,"g":300},{"t":41.72,"g":1200},{"t":41.8,"g":-500},{"t":41.88,"g":700},{"t":41.96,"g":-800},{"t":42.04,"g":600},{"t":42.12,"g":2040},{"t":42.2,"g":-1000},{"t":42.28,"g":-3010},{"t":42.36,"g":-1000},{"t":42.44,"g":1000},{"t":42.52,"g":-1500},{"t":42.59,"g":-4610},{"t":42.65,"g":1500},{"t":42.69,"g":5400},{"t":42.78,"g":2000},{"t":42.86,"g":500},{"t":42.93,"g":-1000},{"t":43.0,"g":-4110},{"t":43.08,"g":-1000},{"t":43.15,"g":1500},{"t":43.21,"g":3800},{"t":43.28,"g":500},{"t":43.35,"g":-800},{"t":43.42,"g":-1500},{"t":43.48,"g":-1330},{"t":43.56,"g":300},{"t":43.64,"g":-500},{"t":43.72,"g":1000},{"t":43.8,"g":-800},{"t":43.86,"g":300},{"t":43.93,"g":1360},{"t":44.0,"g":-500},{"t":44.06,"g":200},{"t":44.13,"g":-1840},{"t":44.2,"g":300},{"t":44.27,"g":-600},{"t":44.34,"g":1700},{"t":44.42,"g":200},{"t":44.48,"g":-1000},{"t":44.55,"g":-1930},{"t":44.62,"g":300},{"t":44.7,"g":1000},{"t":44.78,"g":500},{"t":44.84,"g":1500},{"t":44.96,"g":4060},{"t":45.04,"g":500},{"t":45.12,"g":-2170},{"t":45.2,"g":-800},{"t":45.28,"g":500},{"t":45.36,"g":1000},{"t":45.44,"g":500},{"t":45.57,"g":4310},{"t":45.64,"g":1000},{"t":45.74,"g":-2760},{"t":45.82,"g":-500},{"t":45.9,"g":300},{"t":45.98,"g":770},{"t":46.04,"g":200},{"t":46.1,"g":1000},{"t":46.18,"g":-400},{"t":46.25,"g":-1670},{"t":46.32,"g":300},{"t":46.4,"g":-600},{"t":46.48,"g":800},{"t":46.56,"g":200},{"t":46.64,"g":1360},{"t":46.72,"g":300},{"t":46.8,"g":-800},{"t":46.88,"g":-1500},{"t":46.96,"g":500},{"t":47.04,"g":-1000},{"t":47.16,"g":-1840},{"t":47.24,"g":300},{"t":47.3,"g":-800},{"t":47.38,"g":1000},{"t":47.45,"g":500},{"t":47.52,"g":-500},{"t":47.6,"g":1000},{"t":47.7,"g":1800},{"t":47.78,"g":500},{"t":47.84,"g":2460},{"t":47.92,"g":800},{"t":48.0,"g":-500},{"t":48.1,"g":-2260},{"t":48.18,"g":1000},{"t":48.25,"g":3470},{"t":48.33,"g":500},{"t":48.41,"g":-1670},{"t":48.5,"g":-500},{"t":48.58,"g":-1000},{"t":48.66,"g":300},{"t":48.74,"g":-1500},{"t":48.82,"g":-800},{"t":48.9,"g":-2000},{"t":48.97,"g":-3440},{"t":49.05,"g":-500},{"t":49.12,"g":800},{"t":49.17,"g":2040},{"t":49.25,"g":500},{"t":49.33,"g":1200},{"t":49.4,"g":300},{"t":49.48,"g":-320},{"t":49.56,"g":-800},{"t":49.64,"g":-1500},{"t":49.72,"g":-2500},{"t":49.79,"g":-4190},{"t":49.86,"g":-1000},{"t":49.92,"g":330},{"t":50.0,"g":1000},{"t":50.1,"g":1800},{"t":50.2,"g":3000},{"t":50.3,"g":5000},{"t":50.4,"g":6500},{"t":50.47,"g":7850},{"t":50.55,"g":3000},{"t":50.62,"g":500},{"t":50.7,"g":-1500},{"t":50.76,"g":-3010},{"t":50.84,"g":-4500},{"t":50.92,"g":-6000},{"t":51.03,"g":-8900},{"t":51.1,"g":-6500},{"t":51.17,"g":-7980},{"t":51.25,"g":-5000},{"t":51.32,"g":-3000},{"t":51.4,"g":0},{"t":51.5,"g":3000},{"t":51.56,"g":5000},{"t":51.64,"g":7850},{"t":51.7,"g":6500},{"t":51.75,"g":7300},{"t":51.82,"g":4500},{"t":51.9,"g":2000},{"t":51.97,"g":0},{"t":52.04,"g":-3000},{"t":52.12,"g":-5500},{"t":52.2,"g":-8820},{"t":52.28,"g":-6000},{"t":52.35,"g":-2000},{"t":52.42,"g":3000},{"t":52.48,"g":6000},{"t":52.53,"g":8600},{"t":52.6,"g":5000},{"t":52.68,"g":1000},{"t":52.76,"g":-3000},{"t":52.84,"g":-6500},{"t":52.94,"g":-9240},{"t":53.02,"g":-5000},{"t":53.1,"g":-1500},{"t":53.18,"g":2000},{"t":53.26,"g":5000},{"t":53.35,"g":8300},{"t":53.42,"g":4000},{"t":53.5,"g":0},{"t":53.56,"g":-3000},{"t":53.64,"g":-6460},{"t":53.72,"g":-3000},{"t":53.8,"g":-4190},{"t":53.88,"g":-1500},{"t":53.96,"g":500},{"t":54.05,"g":2000},{"t":54.12,"g":1500},{"t":54.2,"g":3000},{"t":54.26,"g":3720},{"t":54.34,"g":1000},{"t":54.42,"g":-1500},{"t":54.5,"g":-3000},{"t":54.58,"g":-4000},{"t":54.67,"g":-6040},{"t":54.75,"g":-2000},{"t":54.83,"g":2000},{"t":54.9,"g":4500},{"t":54.99,"g":7430},{"t":55.07,"g":3000},{"t":55.14,"g":-1500},{"t":55.21,"g":-5000},{"t":55.28,"g":-8570},{"t":55.36,"g":-3000},{"t":55.45,"g":4480},{"t":55.52,"g":2000},{"t":55.6,"g":3000},{"t":55.68,"g":1000},{"t":55.76,"g":-1330},{"t":55.84,"g":-500},{"t":55.92,"g":-1000},{"t":56.0,"g":300},{"t":56.07,"g":-830},{"t":56.15,"g":-500},{"t":56.24,"g":1000},{"t":56.32,"g":3000},{"t":56.38,"g":4500},{"t":56.44,"g":6920},{"t":56.5,"g":2500},{"t":56.57,"g":-2000},{"t":56.64,"g":-6550},{"t":56.72,"g":-2500},{"t":56.8,"g":1000},{"t":56.9,"g":5000},{"t":56.98,"g":8600},{"t":57.06,"g":3000},{"t":57.13,"g":-1500},{"t":57.2,"g":-5040},{"t":57.28,"g":-2500},{"t":57.36,"g":500},{"t":57.42,"g":3000},{"t":57.47,"g":5400},{"t":57.55,"g":2000},{"t":57.62,"g":-1500},{"t":57.68,"g":-3000},{"t":57.76,"g":-5540},{"t":57.84,"g":-1500},{"t":57.9,"g":1500},{"t":57.96,"g":3890},{"t":58.04,"g":1500},{"t":58.13,"g":-320},{"t":58.2,"g":500},{"t":58.28,"g":-1000},{"t":58.35,"g":-2500},{"t":58.43,"g":-5200},{"t":58.5,"g":-2000},{"t":58.56,"g":2500},{"t":58.62,"g":5000},{"t":58.68,"g":7590},{"t":58.76,"g":3000},{"t":58.84,"g":-2000},{"t":58.91,"g":-7060},{"t":58.98,"g":-3000},{"t":59.04,"g":500},{"t":59.1,"g":3000},{"t":59.16,"g":5490},{"t":59.24,"g":1500},{"t":59.3,"g":-1000},{"t":59.36,"g":-3100},{"t":59.44,"g":-1500},{"t":59.52,"g":500},{"t":59.6,"g":2500},{"t":59.67,"g":3500},{"t":59.73,"g":5070},{"t":59.8,"g":2000},{"t":59.88,"g":-1500},{"t":59.98,"g":-3520}
    ]
  },
  "layer": [
    {
      "data": {"name": "gray"},
      "mark": {"type": "line", "color": "#c4c4c4", "strokeWidth": 2, "interpolate": "monotone"},
      "encoding": {
        "x": {"field": "t", "type": "quantitative", "scale": {"domain": [-10, 70], "nice": false, "zero": false},
              "axis": {"orient": "top", "values": [-10,0,10,20,30,40,50,60,70], "tickSize": 10, "tickWidth": 2, "labels": false, "title": null}},
        "y": {"field": "g", "type": "quantitative", "scale": {"domain": [-20000, 20000], "nice": false, "zero": false}, "axis": null}
      }
    },
    {
      "data": {"name": "tide"},
      "mark": {"type": "line", "color": "#ff0000", "strokeWidth": 5},
      "encoding": {
        "x": {"field": "t", "type": "quantitative", "scale": {"domain": [-10, 70], "nice": false, "zero": false}, "axis": null},
        "y": {"field": "tide", "type": "quantitative", "scale": {"domain": [-1500, 4500], "nice": false, "zero": false},
              "axis": {"orient": "right", "values": [-1500,-1000,-500,0,500,1000], "tickSize": 11, "tickWidth": 2, "labelAlign": "right", "labelPadding": 80, "labelExpr": "'' + datum.value",
                       "title": "Tide [nm/s²]", "titleFontSize": 47, "titleAngle": 270, "titleX": 154, "titleY": 594, "titleAlign": "center", "titleBaseline": "alphabetic"}}
      }
    },
    {
      "data": {"name": "tide"},
      "mark": {"type": "point", "filled": true, "color": "#ff0000", "size": 12, "opacity": 1},
      "encoding": {
        "x": {"field": "t", "type": "quantitative", "scale": {"domain": [-10, 70], "nice": false, "zero": false}, "axis": null},
        "y": {"field": "tide", "type": "quantitative", "scale": {"domain": [-1500, 4500], "nice": false, "zero": false},
              "axis": {"orient": "right", "values": [-1500,-1400,-1300,-1200,-1100,-1000,-900,-800,-700,-600,-500,-400,-300,-200,-100,0,100,200,300,400,500,600,700,800,900,1000,1100,1200,1300,1400,1500], "tickSize": 6, "labels": false, "domain": false, "title": null}}
      }
    },
    {
      "data": {"values": [
        {"t": 0, "t2": 63.9, "v": 0}, {"t": 62, "t2": 64, "v": 2.5}, {"t": 62, "t2": 64, "v": -2.5},
        {"t": 63, "t2": 63.42, "v": 2}, {"t": 63, "t2": 63.42, "v": 1.5}, {"t": 63, "t2": 63.42, "v": 1}, {"t": 63, "t2": 63.42, "v": 0.5},
        {"t": 63, "t2": 63.42, "v": -0.5}, {"t": 63, "t2": 63.42, "v": -1}, {"t": 63, "t2": 63.42, "v": -1.5}, {"t": 63, "t2": 63.42, "v": -2}
      ]},
      "mark": {"type": "rule", "color": "#62bcbc", "strokeWidth": 2},
      "encoding": {
        "x": {"field": "t", "type": "quantitative", "scale": {"domain": [-10, 70], "nice": false, "zero": false}, "axis": null},
        "x2": {"field": "t2"},
        "y": {"field": "v", "type": "quantitative", "scale": {"domain": [-7.5, 2.5], "nice": false, "zero": false}, "axis": null}
      }
    },
    {
      "data": {"values": [{"t": 63, "v": -2.5, "v2": 2.5}]},
      "mark": {"type": "rule", "color": "#62bcbc", "strokeWidth": 2},
      "encoding": {
        "x": {"field": "t", "type": "quantitative", "scale": {"domain": [-10, 70], "nice": false, "zero": false}, "axis": null},
        "y": {"field": "v", "type": "quantitative", "scale": {"domain": [-7.5, 2.5], "nice": false, "zero": false}, "axis": null},
        "y2": {"field": "v2"}
      }
    },
    {
      "data": {"name": "dpdt"},
      "mark": {"type": "line", "color": "#00c4c4", "strokeWidth": 2.5, "interpolate": "monotone"},
      "encoding": {
        "x": {"field": "t", "type": "quantitative", "scale": {"domain": [-10, 70], "nice": false, "zero": false}, "axis": null},
        "y": {"field": "v", "type": "quantitative", "scale": {"domain": [-7.5, 2.5], "nice": false, "zero": false}, "axis": null}
      }
    },
    {
      "data": {"name": "pres"},
      "transform": [{"filter": "datum.o == 0"}],
      "mark": {"type": "line", "color": "#0000ff", "strokeWidth": 4},
      "encoding": {
        "x": {"field": "t", "type": "quantitative", "scale": {"domain": [-10, 70], "nice": false, "zero": false}, "axis": null},
        "y": {"field": "p", "type": "quantitative", "scale": {"domain": [1004, 1014], "nice": false, "zero": false},
              "axis": {"orient": "right", "values": [1010, 1011, 1012, 1013], "tickSize": 11, "tickWidth": 2, "labelAlign": "left", "labelPadding": 12, "labelExpr": "'' + datum.value",
                       "title": "Pressure [hPa]", "titleFontSize": 47, "titleAngle": 270, "titleX": 144, "titleY": 198, "titleAlign": "center", "titleBaseline": "alphabetic"}}
      }
    },
    {
      "data": {"name": "pres"},
      "mark": {"type": "point", "filled": true, "color": "#0000ff", "size": 22, "opacity": 1},
      "encoding": {
        "x": {"field": "t", "type": "quantitative", "scale": {"domain": [-10, 70], "nice": false, "zero": false}, "axis": null},
        "y": {"field": "p", "type": "quantitative", "scale": {"domain": [1004, 1014], "nice": false, "zero": false},
              "axis": {"orient": "right", "values": [1009.1,1009.2,1009.3,1009.4,1009.5,1009.6,1009.7,1009.8,1009.9,1010,1010.1,1010.2,1010.3,1010.4,1010.5,1010.6,1010.7,1010.8,1010.9,1011,1011.1,1011.2,1011.3,1011.4,1011.5,1011.6,1011.7,1011.8,1011.9,1012,1012.1,1012.2,1012.3,1012.4,1012.5,1012.6,1012.7,1012.8,1012.9,1013,1013.1,1013.2,1013.3,1013.4,1013.5,1013.6,1013.7,1013.8,1013.9], "tickSize": 6, "labels": false, "domain": false, "title": null}}
      }
    },
    {
      "data": {"values": [{"t": 50, "t2": 60, "g": -6670}]},
      "mark": {"type": "rule", "color": "#c0c0c0", "strokeWidth": 5},
      "encoding": {
        "x": {"field": "t", "type": "quantitative", "scale": {"domain": [-10, 70], "nice": false, "zero": false},
              "axis": {"orient": "top", "values": [-10,-9,-8,-7,-6,-5,-4,-3,-2,-1,0,1,2,3,4,5,6,7,8,9,10,11,12,13,14,15,16,17,18,19,20,21,22,23,24,25,26,27,28,29,30,31,32,33,34,35,36,37,38,39,40,41,42,43,44,45,46,47,48,49,50,51,52,53,54,55,56,57,58,59,60,61,62,63,64,65,66,67,68,69,70], "tickSize": 5, "labels": false, "domain": false, "title": null}},
        "x2": {"field": "t2"},
        "y": {"field": "g", "type": "quantitative", "scale": {"domain": [-20000, 20000], "nice": false, "zero": false}, "axis": null}
      }
    },
    {
      "data": {"values": [{"t": 50, "g": -7000, "g2": -6340}, {"t": 60, "g": -7000, "g2": -6340}]},
      "mark": {"type": "rule", "color": "#c0c0c0", "strokeWidth": 5},
      "encoding": {
        "x": {"field": "t", "type": "quantitative", "scale": {"domain": [-10, 70], "nice": false, "zero": false}, "axis": null},
        "y": {"field": "g", "type": "quantitative", "scale": {"domain": [-20000, 20000], "nice": false, "zero": false}, "axis": null},
        "y2": {"field": "g2"}
      }
    },
    {
      "data": {"name": "res"},
      "mark": {"type": "line", "color": "#000000", "strokeWidth": 1.5},
      "encoding": {
        "x": {"field": "t", "type": "quantitative", "scale": {"domain": [-10, 70], "nice": false, "zero": false},
              "axis": {"orient": "bottom", "values": [-10,-9,-8,-7,-6,-5,-4,-3,-2,-1,0,1,2,3,4,5,6,7,8,9,10,11,12,13,14,15,16,17,18,19,20,21,22,23,24,25,26,27,28,29,30,31,32,33,34,35,36,37,38,39,40,41,42,43,44,45,46,47,48,49,50,51,52,53,54,55,56,57,58,59,60,61,62,63,64,65,66,67,68,69,70], "tickSize": 5, "labels": false, "domain": false, "title": null}},
        "y": {"field": "g", "type": "quantitative", "scale": {"domain": [-20000, 20000], "nice": false, "zero": false},
              "axis": {"orient": "left", "values": [-20000,-19000,-18000,-17000,-16000,-15000,-14000,-13000,-12000,-11000,-10000,-9000,-8000,-7000,-6000,-5000,-4000,-3000,-2000,-1000,0,1000,2000,3000,4000,5000,6000,7000,8000,9000,10000,11000,12000,13000,14000,15000,16000,17000,18000,19000,20000], "tickSize": 6, "labels": false, "domain": false, "title": null}}
      }
    },
    {
      "data": {"name": "lp"},
      "mark": {"type": "line", "color": "#cccc00", "strokeWidth": 2.5, "interpolate": "monotone"},
      "encoding": {
        "x": {"field": "t", "type": "quantitative", "scale": {"domain": [-10, 70], "nice": false, "zero": false},
              "axis": {"orient": "bottom", "values": [-10,0,10,20,30,40,50,60,70], "tickSize": 10, "tickWidth": 2, "labelPadding": 7, "labelExpr": "'' + datum.value",
                       "title": "Time [min] from 2026-08-14 22:01:00 UTC", "titleFontSize": 48, "titleBaseline": "alphabetic", "titleY": 102}},
        "y": {"field": "g", "type": "quantitative", "scale": {"domain": [-20000, 20000], "nice": false, "zero": false},
              "axis": {"orient": "left", "values": [-20000,-16000,-12000,-8000,-4000,0,4000,8000,12000,16000,20000], "tickSize": 11, "tickWidth": 2, "labelPadding": 9, "labelExpr": "'' + datum.value",
                       "title": "Obs'd Gravity [nm/s²]", "titleFontSize": 46, "titleAngle": 270, "titleX": -122, "titleY": 396, "titleAlign": "center", "titleBaseline": "alphabetic"}}
      }
    },
    {
      "data": {"values": [{"t": -7.45, "t2": -6.55, "g": 0}]},
      "mark": {"type": "rule", "color": "#cccccc", "strokeWidth": 3},
      "encoding": {
        "x": {"field": "t", "type": "quantitative", "scale": {"domain": [-10, 70], "nice": false, "zero": false}, "axis": null},
        "x2": {"field": "t2"},
        "y": {"field": "g", "type": "quantitative", "scale": {"domain": [-20000, 20000], "nice": false, "zero": false}, "axis": null}
      }
    },
    {
      "data": {"values": [{"t": -7, "g": 0}]},
      "mark": {"type": "point", "filled": true, "color": "#000000", "size": 55, "opacity": 1},
      "encoding": {
        "x": {"field": "t", "type": "quantitative", "scale": {"domain": [-10, 70], "nice": false, "zero": false}, "axis": null},
        "y": {"field": "g", "type": "quantitative", "scale": {"domain": [-20000, 20000], "nice": false, "zero": false}, "axis": null}
      }
    },
    {
      "data": {"values": [
        {"series": "Pressure", "t": -7, "g": 0},
        {"series": "dP/dt low-passed", "t": -7, "g": 0},
        {"series": "Residual", "t": -7, "g": 0},
        {"series": "... last 10 min.", "t": -7, "g": 0},
        {"series": "Theor.Tide", "t": -7, "g": 0}
      ]},
      "mark": {"type": "point", "filled": true, "opacity": 0, "size": 3025},
      "encoding": {
        "x": {"field": "t", "type": "quantitative", "scale": {"domain": [-10, 70], "nice": false, "zero": false}, "axis": null},
        "y": {"field": "g", "type": "quantitative", "scale": {"domain": [-20000, 20000], "nice": false, "zero": false}, "axis": null},
        "color": {"field": "series", "type": "nominal",
                  "scale": {"domain": ["Pressure", "dP/dt low-passed", "Residual", "... last 10 min.", "Theor.Tide"], "range": ["#0000ff", "#00c8c8", "#000000", "#c0c0c0", "#ff0000"]},
                  "legend": {
                    "orient": "none", "legendX": 4, "legendY": -90, "title": null, "direction": "vertical",
                    "padding": 7, "clipHeight": 28, "rowPadding": 2.6, "symbolSize": 3025, "symbolOffset": 29.5, "labelOffset": 19,
                    "symbolStrokeWidth": 0,
                    "labelFontSize": 24, "labelFont": "Liberation Sans", "labelColor": "#000000", "labelLimit": 500,
                    "labelExpr": "datum.label + '\u2003\u2003\u2003\u200b'",
                    "strokeColor": "#7f7f7f", "fillColor": "#ffffff",
                    "encode": {"symbols": {"update": {"opacity": {"value": 1}, "strokeWidth": {"value": 0}}}}
                  }},
        "shape": {"field": "series", "type": "nominal",
                  "scale": {"domain": ["Pressure", "dP/dt low-passed", "Residual", "... last 10 min.", "Theor.Tide"],
                            "range": ["M-1,-0.02H1V0.02H-1Z M0.16,0A0.16,0.16,0,1,1,-0.16,0A0.16,0.16,0,1,1,0.16,0Z", "M-1,-0.02H1V0.02H-1Z M0.16,0A0.16,0.16,0,1,1,-0.16,0A0.16,0.16,0,1,1,0.16,0Z", "M-1,-0.045H1V0.045H-1Z", "M-1,-0.073H1V0.073H-1Z", "M-1,-0.02H1V0.02H-1Z M0.16,0A0.16,0.16,0,1,1,-0.16,0A0.16,0.16,0,1,1,0.16,0Z"]}}
      }
    },
    {
      "data": {"values": [
        {"t": -5.56, "g": 0, "label": "Typical noise level"},
        {"t": 65.0, "g": 10100, "label": "1 DIV = 0.5 hPa/h"},
        {"t": 67.6, "g": 9950, "label": "average = -0.3471"}
      ]},
      "mark": {"type": "text", "angle": 270, "fontSize": 23, "align": "center", "baseline": "middle", "color": "#000000", "font": "Liberation Sans"},
      "encoding": {
        "x": {"field": "t", "type": "quantitative", "scale": {"domain": [-10, 70], "nice": false, "zero": false}, "axis": null},
        "y": {"field": "g", "type": "quantitative", "scale": {"domain": [-20000, 20000], "nice": false, "zero": false}, "axis": null},
        "text": {"field": "label"}
      }
    },
    {
      "data": {"values": [{"t": -8.15, "g": -19141, "label": "The latest 1-hour, 1-second sampling"}]},
      "mark": {"type": "text", "fontSize": 27, "fontWeight": "bold", "align": "left", "baseline": "alphabetic", "color": "#000000", "font": "Liberation Sans"},
      "encoding": {
        "x": {"field": "t", "type": "quantitative", "scale": {"domain": [-10, 70], "nice": false, "zero": false}, "axis": null},
        "y": {"field": "g", "type": "quantitative", "scale": {"domain": [-20000, 20000], "nice": false, "zero": false}, "axis": null},
        "text": {"field": "label"}
      }
    },
    {
      "data": {"values": [{"t": 68.15, "g": -19141, "label": "End at 2026-08-14 23:00:59 UTC"}]},
      "mark": {"type": "text", "fontSize": 27, "fontWeight": "bold", "align": "right", "baseline": "alphabetic", "color": "#000000", "font": "Liberation Sans"},
      "encoding": {
        "x": {"field": "t", "type": "quantitative", "scale": {"domain": [-10, 70], "nice": false, "zero": false}, "axis": null},
        "y": {"field": "g", "type": "quantitative", "scale": {"domain": [-20000, 20000], "nice": false, "zero": false}, "axis": null},
        "text": {"field": "label"}
      }
    },
    {
      "data": {"values": [{"t": 68.27, "g": 21414, "label": "SCG_054 gravimeter Onsala Space Observatory, Sweden"}]},
      "mark": {"type": "text", "fontSize": 32, "fontWeight": "bold", "align": "right", "baseline": "alphabetic", "color": "#000000", "font": "Liberation Sans"},
      "encoding": {
        "x": {"field": "t", "type": "quantitative", "scale": {"domain": [-10, 70], "nice": false, "zero": false}, "axis": null},
        "y": {"field": "g", "type": "quantitative", "scale": {"domain": [-20000, 20000], "nice": false, "zero": false}, "axis": null},
        "text": {"field": "label"}
      }
    }
  ],
  "resolve": {"scale": {"y": "independent"}, "axis": {"x": "independent", "y": "independent"}}
}
